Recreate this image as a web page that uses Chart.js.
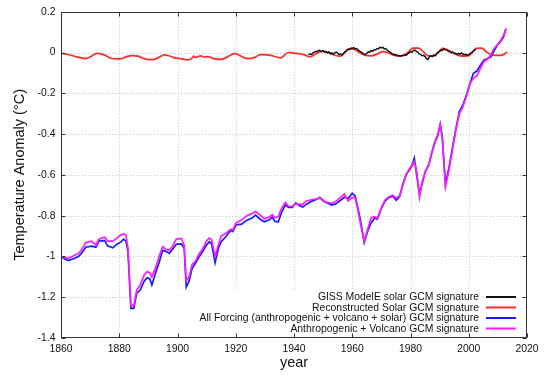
<!DOCTYPE html>
<html>
<head>
<meta charset="utf-8">
<script src="https://cdn.jsdelivr.net/npm/chart.js@4.4.1/dist/chart.umd.min.js"></script>
<style>
  html, body { margin: 0; padding: 0; background: #fff; }
  #wrap { width: 550px; height: 379px; }
</style>
</head>
<body>
<div id="wrap"><canvas id="chart"></canvas></div>
<script>
// Axis ticks
const xTicks = [1860, 1880, 1900, 1920, 1940, 1960, 1980, 2000, 2020];
const yTicks = [0.2, 0, -0.2, -0.4, -0.6, -0.8, -1, -1.2, -1.4];

// GISS ModelE solar GCM signature (black)
const gissYears = [1945, 1945.5, 1946, 1946.5, 1947, 1947.5, 1948, 1948.5, 1949, 1949.5,
  1950, 1950.5, 1951, 1951.5, 1952, 1952.5, 1953, 1953.5, 1954, 1954.5,
  1955, 1955.5, 1956, 1956.5, 1957, 1957.5, 1958, 1958.5, 1959, 1959.5,
  1960, 1960.5, 1961, 1961.5, 1962, 1962.5, 1963, 1963.5, 1964, 1964.5,
  1965, 1965.5, 1966, 1966.5, 1967, 1967.5, 1968, 1968.5, 1969, 1969.5,
  1970, 1970.5, 1971, 1971.5, 1972, 1972.5, 1973, 1973.5, 1974, 1974.5,
  1975, 1975.5, 1976, 1976.5, 1977, 1977.5, 1978, 1978.5, 1979, 1979.5,
  1980, 1980.5, 1981, 1981.5, 1982, 1982.5, 1983, 1983.5, 1984, 1984.5,
  1985, 1985.5, 1986, 1986.5, 1987, 1987.5, 1988, 1988.5, 1989, 1989.5,
  1990, 1990.5, 1991, 1991.5, 1992, 1992.5, 1993, 1993.5, 1994, 1994.5,
  1995, 1995.5, 1996, 1996.5, 1997, 1997.5, 1998, 1998.5, 1999, 1999.5,
  2000, 2000.5, 2001, 2001.5, 2002, 2002.5];
const gissSolar = [-0.012, -0.006, -0.01, -0.002, 0.002, 0.006, 0.004, 0.012, 0.008, 0.004,
  0.01, 0.002, 0.006, -0.002, 0.004, -0.006, -0.002, -0.008, -0.002, 0.002,
  -0.004, -0.01, -0.006, -0.012, -0.004, 0.004, 0.01, 0.016, 0.014, 0.022,
  0.02, 0.024, 0.018, 0.02, 0.012, 0.008, 0.002, -0.002, -0.008, -0.01,
  -0.004, 0.004, 0.002, 0.01, 0.006, 0.014, 0.012, 0.02, 0.018, 0.026,
  0.022, 0.026, 0.018, 0.02, 0.012, 0.006, 0.002, -0.004, -0.008, -0.012,
  -0.01, -0.016, -0.014, -0.018, -0.014, -0.016, -0.01, -0.014, -0.006, -0.002,
  0.004, 0.002, 0.01, 0.012, 0.006, 0.002, -0.008, -0.01, -0.016, -0.014,
  -0.02, -0.03, -0.034, -0.022, -0.016, -0.02, -0.012, -0.016, -0.006, 0.002,
  0.006, 0.012, 0.01, 0.018, 0.014, 0.012, 0.006, 0.004, -0.002, 0.002,
  -0.006, -0.004, -0.01, -0.004, -0.008, -0.002, -0.008, -0.012, -0.008, -0.014,
  -0.01, -0.004, 0.0, 0.006, 0.012, 0.016];

// Reconstructed Solar GCM signature (red)
const reconYears = [1860, 1861, 1863, 1865, 1867, 1868.5, 1870, 1871.5, 1872.5, 1874,
  1875.5, 1877, 1879, 1880.8, 1882.5, 1884.5, 1886.5, 1888.5, 1890.5, 1892,
  1893.5, 1895.5, 1897, 1899, 1901, 1903.5, 1904.8, 1905.6, 1906.2, 1907,
  1908, 1909, 1910.5, 1912.5, 1914.5, 1916, 1918, 1919.5, 1921, 1923,
  1924.5, 1926.5, 1928.5, 1930, 1932, 1934, 1935.5, 1936.8, 1938, 1940,
  1942, 1944, 1945.5, 1947.5, 1949.5, 1951, 1952.5, 1954.5, 1956, 1957.5,
  1959, 1960.5, 1962.5, 1964.5, 1966.5, 1968.5, 1970.5, 1972, 1974, 1976,
  1978, 1979.5, 1980.8, 1982.8, 1984.5, 1986, 1988, 1989.5, 1991, 1992.8,
  1994.5, 1996.5, 1998.5, 2000, 2001.5, 2002.5, 2004.5, 2006, 2007.5, 2009.5,
  2011, 2012.2, 2013.2];
const reconSolar = [-0.004, -0.006, -0.012, -0.02, -0.026, -0.03, -0.022, -0.008, -0.004, -0.008,
  -0.016, -0.028, -0.031, -0.03, -0.02, -0.015, -0.018, -0.03, -0.035, -0.034,
  -0.024, -0.012, -0.016, -0.026, -0.03, -0.036, -0.03, -0.018, -0.024, -0.02,
  -0.016, -0.022, -0.02, -0.03, -0.034, -0.03, -0.015, -0.005, -0.012, -0.026,
  -0.03, -0.024, -0.01, -0.01, -0.014, -0.022, -0.026, -0.012, 0.0, -0.003,
  -0.006, -0.014, -0.022, -0.006, 0.006, 0.004, -0.004, -0.016, -0.018, 0.0,
  0.018, 0.016, 0.0, -0.014, -0.016, -0.008, 0.004, 0.0, -0.012, -0.018,
  -0.012, 0.006, 0.022, 0.022, 0.002, -0.016, -0.016, 0.0, 0.02, 0.012,
  0.0, -0.014, -0.018, -0.016, 0.004, 0.02, 0.022, 0.004, -0.01, -0.014,
  -0.014, -0.008, 0.003];

// Shared years for the two forcing runs
const forcingYears = [1860, 1861, 1862.5, 1864.5, 1866, 1867, 1868.5, 1870.5, 1872, 1873,
  1875, 1876, 1877.8, 1879.2, 1880.5, 1881.5, 1882.3, 1883, 1884, 1885,
  1886, 1887.2, 1888.6, 1889.6, 1890.5, 1891.2, 1892.6, 1893.7, 1894.9, 1896,
  1897.2, 1898.3, 1899.6, 1901.3, 1902.3, 1903, 1904, 1905, 1906.3, 1907.5,
  1908.7, 1909.9, 1910.9, 1911.7, 1912.9, 1914.1, 1915, 1916.5, 1918.3, 1919,
  1920.1, 1922, 1923.8, 1925.6, 1926.8, 1928.6, 1929.8, 1931.6, 1932.5, 1933.4,
  1934.6, 1935.8, 1937, 1938.2, 1939.4, 1940.6, 1941.8, 1943, 1944.2, 1946,
  1947.8, 1948.8, 1950.2, 1951.4, 1953, 1954.4, 1956.2, 1957.3, 1958.6, 1960,
  1961, 1961.9, 1962.9, 1964.1, 1965.3, 1966.5, 1967.7, 1968.6, 1970.1, 1971.3,
  1972.5, 1973.9, 1975.1, 1976.3, 1977.3, 1978.5, 1979.7, 1980.6, 1981.3, 1982.1,
  1983.1, 1983.9, 1985.1, 1986.3, 1987.3, 1988.5, 1989.3, 1990.2, 1990.9, 1992,
  1993.2, 1994.4, 1995.6, 1996.8, 1998, 1999.2, 2000.6, 2001.6, 2002.8, 2004,
  2005.2, 2006.4, 2007.6, 2008.6, 2009.8, 2011, 2011.9, 2012.8];

// All Forcing (anthropogenic + volcano + solar) GCM signature (blue)
const allForcing = [-1.0, -1.01, -1.02, -1.01, -1.0, -0.985, -0.955, -0.95, -0.955, -0.925,
  -0.922, -0.948, -0.958, -0.94, -0.93, -0.915, -0.925, -0.975, -1.255, -1.255,
  -1.18, -1.165, -1.12, -1.105, -1.11, -1.14, -1.075, -1.03, -0.97, -0.975,
  -0.985, -0.965, -0.94, -0.938, -0.96, -1.15, -1.12, -1.06, -1.03, -1.0,
  -0.975, -0.945, -0.928, -0.938, -1.03, -0.958, -0.928, -0.905, -0.872, -0.878,
  -0.845, -0.842, -0.822, -0.812, -0.797, -0.82, -0.83, -0.82, -0.807, -0.828,
  -0.83, -0.782, -0.748, -0.76, -0.76, -0.738, -0.75, -0.758, -0.745, -0.73,
  -0.72, -0.71, -0.728, -0.738, -0.748, -0.742, -0.722, -0.71, -0.716, -0.69,
  -0.703, -0.76, -0.83, -0.932, -0.875, -0.835, -0.812, -0.818, -0.76, -0.728,
  -0.712, -0.705, -0.724, -0.705, -0.648, -0.598, -0.575, -0.55, -0.518, -0.598,
  -0.696, -0.648, -0.582, -0.55, -0.493, -0.436, -0.411, -0.355, -0.411, -0.645,
  -0.566, -0.468, -0.372, -0.29, -0.257, -0.208, -0.143, -0.102, -0.091, -0.062,
  -0.037, -0.029, -0.021, 0.006, 0.036, 0.055, 0.076, 0.117];

// Anthropogenic + Volcano GCM signature (magenta)
const anthroVolcano = [-1.0, -1.003, -1.01, -0.995, -0.985, -0.97, -0.932, -0.925, -0.945, -0.915,
  -0.905, -0.925, -0.925, -0.91, -0.895, -0.89, -0.895, -0.96, -1.24, -1.24,
  -1.165, -1.14, -1.09, -1.075, -1.08, -1.1, -1.05, -1.0, -0.952, -0.965,
  -0.97, -0.95, -0.915, -0.912, -0.945, -1.12, -1.1, -1.04, -1.02, -0.985,
  -0.962, -0.925, -0.91, -0.918, -1.0, -0.94, -0.9, -0.888, -0.866, -0.87,
  -0.835, -0.822, -0.8, -0.79, -0.78, -0.8, -0.815, -0.806, -0.795, -0.81,
  -0.805, -0.762, -0.735, -0.755, -0.755, -0.742, -0.745, -0.745, -0.728, -0.722,
  -0.718, -0.712, -0.73, -0.735, -0.74, -0.73, -0.708, -0.693, -0.728, -0.71,
  -0.712, -0.77, -0.845, -0.925, -0.865, -0.81, -0.805, -0.815, -0.758, -0.722,
  -0.708, -0.7, -0.714, -0.702, -0.655, -0.6, -0.568, -0.555, -0.535, -0.58,
  -0.71, -0.64, -0.585, -0.55, -0.49, -0.43, -0.405, -0.35, -0.42, -0.66,
  -0.578, -0.478, -0.38, -0.3, -0.265, -0.215, -0.148, -0.125, -0.115, -0.078,
  -0.045, -0.032, -0.012, 0.018, 0.038, 0.06, 0.082, 0.118];

const seriesNames = [
  "GISS ModelE solar GCM signature",
  "Reconstructed Solar GCM signature",
  "All Forcing (anthropogenic + volcano + solar) GCM signature",
  "Anthropogenic + Volcano GCM signature"
];
const seriesColors = ["#111111", "#ff2a2a", "#1a1aff", "#ff1aff"];

const toPoints = (xs, ys) => xs.map((x, i) => ({ x: x, y: ys[i] }));
const FONT = "'Liberation Sans', Arial, sans-serif";

// grid, frame, inward tick marks and key, gnuplot style
const frame = {
  id: "frame",
  beforeDatasetsDraw(chart) {
    const { ctx, chartArea: a, scales: { x, y } } = chart;
    ctx.save();
    ctx.strokeStyle = "#c8c8c8";
    ctx.lineWidth = 1;
    ctx.setLineDash([1, 2]);
    ctx.beginPath();
    xTicks.slice(1, -1).forEach(v => {
      const px = Math.round(x.getPixelForValue(v)) + 0.5;
      ctx.moveTo(px, a.top); ctx.lineTo(px, a.bottom);
    });
    yTicks.slice(1, -1).forEach(v => {
      const py = Math.round(y.getPixelForValue(v)) + 0.5;
      ctx.moveTo(a.left, py); ctx.lineTo(a.right, py);
    });
    ctx.stroke();
    // key backing hides the grid under it
    ctx.fillStyle = "#fff";
    ctx.fillRect(135, 290, a.right - 136, a.bottom - 291);
    ctx.restore();
  },
  afterDraw(chart) {
    const { ctx, chartArea: a, scales: { x, y } } = chart;
    ctx.save();
    ctx.strokeStyle = "#333";
    ctx.lineWidth = 1;
    const l = Math.round(a.left) + 0.5, r = Math.round(a.right) - 0.5;
    const t = Math.round(a.top) + 0.5, b = Math.round(a.bottom) - 0.5;
    ctx.strokeRect(l, t, r - l, b - t);
    ctx.beginPath();
    xTicks.forEach(v => {
      const px = Math.round(x.getPixelForValue(v)) + 0.5;
      ctx.moveTo(px, b); ctx.lineTo(px, b - 4);
      ctx.moveTo(px, t); ctx.lineTo(px, t + 4);
    });
    yTicks.forEach(v => {
      const py = Math.round(y.getPixelForValue(v)) + 0.5;
      ctx.moveTo(l, py); ctx.lineTo(l + 4, py);
      ctx.moveTo(r, py); ctx.lineTo(r - 4, py);
    });
    ctx.stroke();

    // key
    const rows = [297, 307.5, 318, 328.5];
    ctx.font = "10.4px " + FONT;
    ctx.textAlign = "right";
    ctx.textBaseline = "middle";
    seriesNames.forEach((name, i) => {
      ctx.fillStyle = "#111";
      ctx.fillText(name, 479, rows[i] + 0.5);
      ctx.strokeStyle = seriesColors[i];
      ctx.lineWidth = 2;
      ctx.beginPath();
      ctx.moveTo(486, rows[i]); ctx.lineTo(516, rows[i]);
      ctx.stroke();
    });
    ctx.restore();
  }
};

new Chart(document.getElementById("chart"), {
  type: "line",
  data: {
    datasets: [
      {
        label: seriesNames[0],
        data: toPoints(gissYears, gissSolar),
        borderColor: seriesColors[0],
        borderWidth: 1.4,
        order: 2
      },
      {
        label: seriesNames[1],
        data: toPoints(reconYears, reconSolar),
        borderColor: seriesColors[1],
        borderWidth: 1.7,
        cubicInterpolationMode: "monotone",
        order: 3
      },
      {
        label: seriesNames[2],
        data: toPoints(forcingYears, allForcing),
        borderColor: seriesColors[2],
        borderWidth: 1.7,
        order: 1
      },
      {
        label: seriesNames[3],
        data: toPoints(forcingYears, anthroVolcano),
        borderColor: seriesColors[3],
        borderWidth: 1.7,
        order: 0
      }
    ]
  },
  options: {
    responsive: true,
    maintainAspectRatio: false,
    animation: false,
    parsing: false,
    elements: {
      point: { radius: 0, hoverRadius: 0 },
      line: { tension: 0, fill: false }
    },
    layout: { padding: { top: 10, right: 23, left: 0, bottom: 0 } },
    plugins: {
      legend: { display: false },
      tooltip: { enabled: false }
    },
    scales: {
      x: {
        type: "linear",
        min: 1860,
        max: 2020,
        afterBuildTicks: s => { s.ticks = xTicks.map(v => ({ value: v })); },
        afterFit: s => { s.height = 41; },
        grid: { display: false, drawTicks: false },
        border: { display: false },
        ticks: {
          color: "#111",
          padding: 5,
          maxRotation: 0,
          font: { family: FONT, size: 10.4 },
          callback: v => String(v)
        },
        title: {
          display: true,
          text: "year",
          color: "#111",
          font: { family: FONT, size: 14.5 },
          padding: { top: 0, bottom: 7 }
        }
      },
      y: {
        min: -1.4,
        max: 0.2,
        afterBuildTicks: s => { s.ticks = yTicks.map(v => ({ value: v })); },
        afterFit: s => { s.width = 61; },
        grid: { display: false, drawTicks: false },
        border: { display: false },
        ticks: {
          color: "#111",
          padding: 5.5,
          font: { family: FONT, size: 10.4 },
          callback: v => String(Math.round(v * 10) / 10)
        },
        title: {
          display: true,
          text: "Temperature Anomaly (°C)",
          color: "#111",
          font: { family: FONT, size: 14.5 },
          padding: { top: 11, bottom: 0 }
        }
      }
    }
  },
  plugins: [frame]
});
</script>
</body>
</html>
